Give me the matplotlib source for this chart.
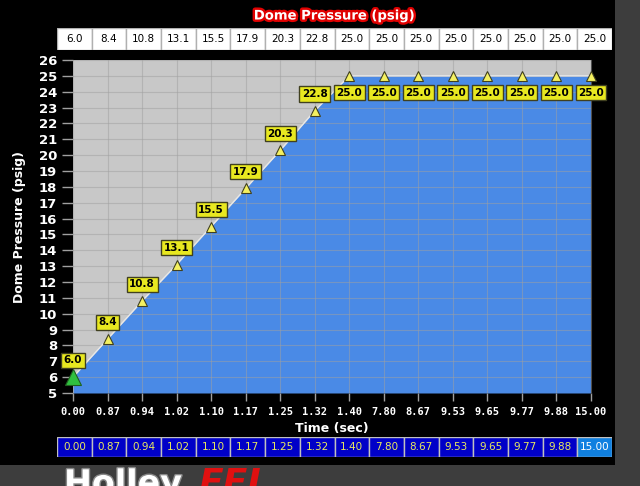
import matplotlib
matplotlib.use("Agg")
import matplotlib.pyplot as plt
import matplotlib.patheffects as pe
from matplotlib.patches import Rectangle
import numpy as np

# table values
time_labels = ["0.00", "0.87", "0.94", "1.02", "1.10", "1.17", "1.25", "1.32",
               "1.40", "7.80", "8.67", "9.53", "9.65", "9.77", "9.88", "15.00"]
pressure = [6.0, 8.4, 10.8, 13.1, 15.5, 17.9, 20.3, 22.8,
            25.0, 25.0, 25.0, 25.0, 25.0, 25.0, 25.0, 25.0]
y_ticks = list(range(5, 27))

idx = np.arange(len(pressure))

fig = plt.figure(figsize=(6.4, 4.86), dpi=100)
fig.patch.set_facecolor("#3d3d3d")

# logo behind the black panel, only its top shows
fig.text(0.10, -0.03, "Holley", color="white", fontsize=24, fontweight="bold",
         ha="left", va="bottom", zorder=0,
         path_effects=[pe.withStroke(linewidth=2, foreground="#888888")])
fig.text(0.31, -0.03, "EFI", color="#e01010", fontsize=26, fontweight="bold",
         fontstyle="italic", ha="left", va="bottom", zorder=0)

# black software panel
fig.patches.append(Rectangle((0, 1 - 465 / 486), 615 / 640, 465 / 486,
                             transform=fig.transFigure, facecolor="black",
                             edgecolor="none", zorder=1))

fig.text(335 / 640, 1 - 16 / 486, "Dome Pressure (psig)", color="white",
         fontsize=9.5, fontweight="bold", ha="center", va="center", zorder=5,
         path_effects=[pe.withStroke(linewidth=3.5, foreground="#e00000")])

# main chart
ax = fig.add_axes([73 / 640, 1 - 393 / 486, 518 / 640, 333 / 486], zorder=3)
ax.set_facecolor("#c8c8c8")
ax.set_xlim(0, len(pressure) - 1)
ax.set_ylim(5, 26)
ax.fill_between(idx, 5, pressure, color="#4a8ae6", zorder=1, lw=0)
ax.plot(idx, pressure, color="#e8e8e8", lw=1, zorder=2)
ax.set_xticks(idx)
ax.set_xticklabels(time_labels)
ax.set_yticks(y_ticks)
ax.grid(True, color="#a0a0a0", lw=0.8)
for gl in ax.get_xgridlines() + ax.get_ygridlines():
    gl.set_zorder(1.5)
    gl.set_alpha(0.5)
ax.tick_params(axis="y", colors="#a0a0a0", labelcolor="white", length=8,
               labelsize=9.5, width=1)
ax.tick_params(axis="x", colors="#a0a0a0", labelcolor="white", length=6,
               labelsize=7.5, width=1, pad=4)
for lab in ax.get_yticklabels():
    lab.set_fontweight("bold")
for lab in ax.get_xticklabels():
    lab.set_fontweight("bold")
    lab.set_family("DejaVu Sans Mono")
for s in ax.spines.values():
    s.set_visible(False)
ax.spines["right"].set_visible(True)
ax.spines["right"].set_color("#505050")

ax.set_xlabel("Time (sec)", color="white", fontsize=9, fontweight="bold", labelpad=4)
ax.set_ylabel("Dome Pressure (psig)", color="white", fontsize=9,
              fontweight="bold", labelpad=9)

ax.plot(idx[1:], pressure[1:], ls="none", marker="^", ms=7, mfc="#f4f060",
        mec="#404020", mew=0.8, zorder=4, clip_on=False)
ax.plot(idx[:1], pressure[:1], ls="none", marker="^", ms=11, mfc="#30c040",
        mec="#206020", mew=0.8, zorder=4, clip_on=False)

for i, p in zip(idx, pressure):
    dy = 12 if p < 25 else -12
    ax.annotate(f"{p:.1f}", (i, p), xytext=(0, dy), textcoords="offset points",
                ha="center", va="center", fontsize=7.5, fontweight="bold",
                color="black", zorder=6, annotation_clip=False,
                bbox=dict(boxstyle="square,pad=0.25", fc="#e8e820",
                          ec="#404020", lw=1))

# top value table
tt = fig.add_axes([57 / 640, 1 - 50 / 486, 555 / 640, 22 / 486], zorder=3)
tt.set_xlim(0, len(pressure))
tt.set_ylim(0, 1)
tt.axis("off")
for i, p in enumerate(pressure):
    tt.add_patch(Rectangle((i, 0), 1, 1, fc="white", ec="#b0b0b0", lw=1))
    tt.text(i + 0.5, 0.5, f"{p:.1f}", ha="center", va="center",
            fontsize=7.5, color="black")

# bottom time table
bt = fig.add_axes([57 / 640, 1 - 457 / 486, 555 / 640, 20 / 486], zorder=3)
bt.set_xlim(0, len(time_labels))
bt.set_ylim(0, 1)
bt.axis("off")
for i, t in enumerate(time_labels):
    last = i == len(time_labels) - 1
    bt.add_patch(Rectangle((i, 0), 1, 1, fc="#1080e0" if last else "#0000c8",
                           ec="#c0c0c0", lw=1))
    bt.text(i + 0.5, 0.5, t, ha="center", va="center", fontsize=7.5,
            color="white" if last else "#e8e860")

fig.savefig("out.png", dpi=100, facecolor=fig.get_facecolor())
